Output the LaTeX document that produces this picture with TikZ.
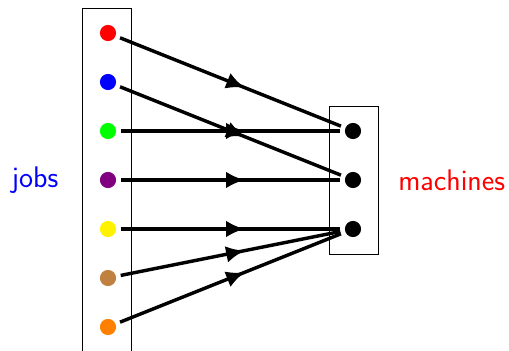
\documentclass[tikz,border=0pt]{standalone}
\usepackage{tikz}
\usetikzlibrary{positioning,fit,arrows.meta,decorations.markings}

\tikzset{
	dot/.style={circle, inner sep=0pt, minimum size=0.33cm, outer sep=0.1cm},
	group/.style={draw, rectangle, inner sep=0pt},
	assign/.style={line width=2pt, decoration={markings, mark=at position 0.565 with {\arrow{Latex[length=0.38cm, width=0.34cm]}}}, postaction={decorate}}
}

\begin{document}
\begin{tikzpicture}
				\useasboundingbox (0, 0) rectangle (10.388, -7.163);
				% jobs
				\node[dot, fill=red] (j1)at(2.204, -0.673) {};
				\node[dot, fill=blue] (j2)at(2.204, -1.673) {};
				\node[dot, fill=green] (j3)at(2.204, -2.673) {};
				\node[dot, fill=violet] (j4)at(2.204, -3.673) {};
				\node[dot, fill=yellow] (j5)at(2.204, -4.673) {};
				\node[dot, fill=brown] (j6)at(2.204, -5.673) {};
				\node[dot, fill=orange] (j7)at(2.204, -6.673) {};
				% machines
				\node[dot, fill=black] (m1)at(7.204, -2.673) {};
				\node[dot, fill=black] (m2)at(7.204, -3.673) {};
				\node[dot, fill=black] (m3)at(7.204, -4.673) {};
				\node[group, minimum width=1cm, minimum height=7.01cm] (jobbox)at(2.184, -3.668) {};
				\node[group, minimum width=1cm, minimum height=3.02cm] (machbox)at(7.214, -3.673) {};
				\node[left=0.48cm of jobbox, inner sep=0pt, text=blue, font=\sffamily\fontsize{17.3}{21}\selectfont] (jobs) {jobs};
				\node[right=0.4cm of machbox, inner sep=0pt, text=red, font=\sffamily\fontsize{17.3}{21}\selectfont] (machines) {machines};
				\draw[assign] (j1) -- (m1);
				\draw[assign] (j2) -- (m2);
				\draw[assign] (j3) -- (m1);
				\draw[assign] (j4) -- (m2);
				\draw[assign] (j5) -- (m3);
				\draw[assign] (j6) -- (m3);
				\draw[assign] (j7) -- (m3);
			\end{tikzpicture}
\end{document}
